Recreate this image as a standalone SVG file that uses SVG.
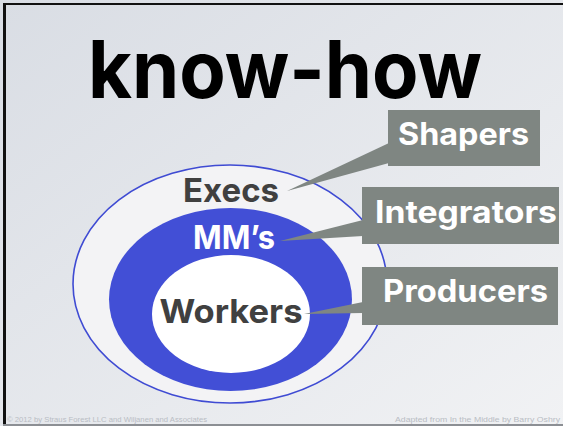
<svg xmlns="http://www.w3.org/2000/svg" width="563" height="426" viewBox="0 0 563 426">
  <defs>
    <linearGradient id="bg" x1="0" y1="0" x2="1" y2="1">
      <stop offset="0" stop-color="#d9dde4"/>
      <stop offset="1" stop-color="#f1f2f4"/>
    </linearGradient>
    <style>
      .lbl { font-family: Inter, "Liberation Sans", sans-serif; font-weight: 700; }
      .box { fill: #7f8682; }
      .tag { fill: #ffffff; font-size: 31px; }
      .ring { font-size: 33px; text-anchor: middle; }
      .foot { font-family: "Liberation Sans", sans-serif; font-size: 7.5px; fill: #b9bdc4; }
    </style>
  </defs>

  <!-- slide background and frame -->
  <rect x="0" y="0" width="563" height="426" fill="url(#bg)"/>
  <rect x="3" y="3" width="560" height="2" fill="#111111"/>
  <rect x="3" y="3" width="3" height="423" fill="#111111"/>
  <rect x="3" y="424" width="560" height="2" fill="#8c8f94"/>

  <text class="lbl" x="285" y="98" font-size="80" font-weight="800" text-anchor="middle" fill="#000000" textLength="394" lengthAdjust="spacingAndGlyphs">know-how</text>

  <!-- nested rings -->
  <g id="execs">
    <ellipse cx="230" cy="284" rx="157" ry="119" fill="#f3f3f5" stroke="#3f4bd3" stroke-width="1.6"/>
    <text class="lbl ring" x="231" y="202" fill="#404040" textLength="96" lengthAdjust="spacingAndGlyphs">Execs</text>
  </g>
  <g id="mms">
    <ellipse cx="230.5" cy="299.5" rx="121.5" ry="91.5" fill="#424fd6"/>
    <text class="lbl ring" x="234" y="249" fill="#ffffff" textLength="82" lengthAdjust="spacingAndGlyphs">MM’s</text>
  </g>
  <g id="workers">
    <ellipse cx="231" cy="314" rx="79" ry="59" fill="#ffffff"/>
    <text class="lbl ring" x="231" y="323" fill="#404040" textLength="143" lengthAdjust="spacingAndGlyphs">Workers</text>
  </g>

  <!-- callout pointers -->
  <g id="connectors" fill="#7f8682">
    <polygon points="287,191 389,143 389,163"/>
    <polygon points="280,241 363,220 363,236"/>
    <polygon points="304,314 363,302 363,313"/>
  </g>

  <!-- role callouts -->
  <g id="shapers">
    <rect class="box" x="388" y="110" width="152" height="56"/>
    <text class="lbl tag" x="398" y="145" textLength="131" lengthAdjust="spacingAndGlyphs">Shapers</text>
  </g>
  <g id="integrators">
    <rect class="box" x="362" y="187" width="197" height="57"/>
    <text class="lbl tag" x="375" y="223" textLength="182" lengthAdjust="spacingAndGlyphs">Integrators</text>
  </g>
  <g id="producers">
    <rect class="box" x="362" y="267" width="196" height="58"/>
    <text class="lbl tag" x="383" y="302" textLength="165" lengthAdjust="spacingAndGlyphs">Producers</text>
  </g>

  <text class="foot" x="7" y="422" textLength="200" lengthAdjust="spacingAndGlyphs">© 2012 by Straus Forest LLC and Wiljanen and Associates</text>
  <text class="foot" x="395" y="422" textLength="165" lengthAdjust="spacingAndGlyphs" fill="#9a9ea6">Adapted from In the Middle by Barry Oshry</text>
</svg>
